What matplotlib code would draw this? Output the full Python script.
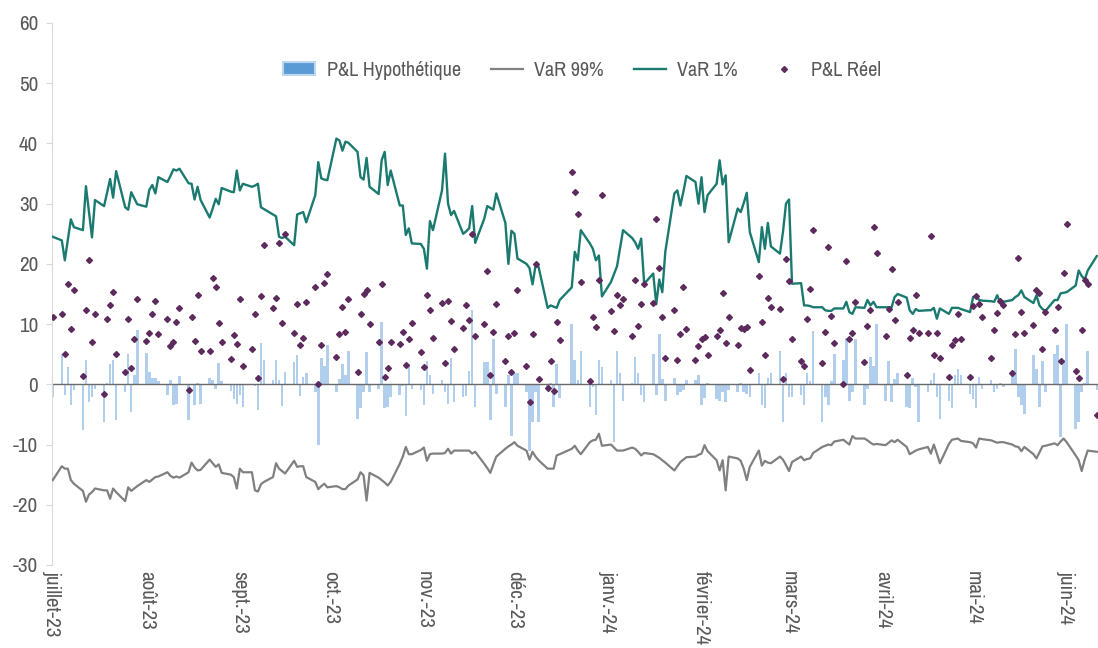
import matplotlib
matplotlib.use("Agg")
import numpy as np
import pandas as pd
import matplotlib.pyplot as plt
from matplotlib import font_manager
from matplotlib.patches import Patch
from matplotlib.lines import Line2D

# narrow font like the original if one is installed, else a smaller Liberation Sans
names = sorted({f.name for f in font_manager.fontManager.ttflist})
narrow = [n for n in names if 'Narrow' in n or 'Condensed' in n]
if narrow:
    plt.rcParams['font.family'] = [narrow[0], 'DejaVu Sans']
    FS = 14.5
else:
    plt.rcParams['font.family'] = ['Liberation Sans', 'DejaVu Sans']
    FS = 12.8
plt.rcParams['axes.unicode_minus'] = False

# trading days, 7 Jul 2023 -> 17 Jun 2024 (25 Dec closed)
dates = pd.bdate_range('2023-07-07', '2024-06-17')
dates = dates[dates != pd.Timestamp('2023-12-25')]

# P&L hypothetique (bars), one row per week
pnl_hypo = [-2.1,
    5.1, -1.8, 2.9, -3.5, -1.0,
    -7.6, 4.0, -2.9, -2.1, -0.7,
    -6.3, 0.3, 3.4, 4.0, -6.0,
    -1.3, 5.1, -4.6, 1.5, 9.0,
    5.2, 2.0, 1.0, 1.0, 0.5,
    -1.7, 0.7, -3.5, -3.2, 1.4,
    -6.0, 0.1, -3.5, 0.3, -3.2,
    1.1, 0.7, -0.7, 3.6, 0.6,
    -1.1, -2.4, -3.2, -1.8, -3.8,
    0.1, -0.3, -4.3, 6.8, 4.0,
    0.8, 4.0, 0.7, -3.6, 2.0,
    3.7, 4.9, -1.9, 1.2, 1.8,
    -1.3, -10.1, 4.3, 3.0, 6.6,
    -1.3, 0.9, 3.3, 1.5, 5.5,
    -5.7, -4.0, -1.3, 5.4, -1.3,
    -0.7, 10.4, -4.0, -3.8, -2.1,
    -1.8, -0.2, -5.3, 3.4, -0.7,
    -1.0, -3.5, 3.8, 1.5, -1.6,
    0.7, -1.3, -3.2, 4.4, -2.9,
    -2.1, -1.9, 2.2, 12.3, -3.8,
    3.7, 3.7, -6.0, 7.5, -1.6,
    -3.8, 1.5, -8.5, 1.8, 1.8,
    -1.3, -11.0, -6.3, -1.3, -6.3,
    -0.7, 0.3, -3.8, 3.3, -2.3,
    10.1, 4.0, 0.7, 5.5,
    -3.8, -0.5, -5.1, 4.0, 2.9,
    0.8, -9.5, 5.5, 1.8, -2.7,
    0.3, 4.5, 1.8, -1.8, -2.9,
    5.1, -1.8, 8.4, 0.9, -2.7,
    1.1, -1.8, -1.3, -1.0, 0.7,
    0.7, 1.5, -3.4, -2.3, 0.3,
    -2.4, -2.7, -1.3, -2.9, -1.0,
    -1.3, 0.3, -1.3, -1.6, -2.1,
    1.8, -3.5, -3.9, 1.0, 1.8,
    5.6, -6.3, 1.8, -2.1, -2.1,
    -1.8, -3.5, 1.9, 0.5, 8.8,
    -6.3, -2.1, -3.5, 0.5, 5.1,
    4.0, 7.7, -2.7, -1.3, 7.6,
    -3.5, -0.7, 4.5, 3.0, 10.1,
    -2.8, 3.8, -2.9, 0.9, 1.8,
    -3.8, -4.0, 1.1, -0.5, -6.3,
    -1.3, 0.7, 1.8, -2.1, -5.7,
    -2.7, -4.0, 1.5, 2.5, 1.5,
    -1.6, -2.4, -4.0, 1.2, -0.7,
    0.8, -1.3, -0.7, 0.3, -0.4,
    2.0, 5.9, -2.1, -3.5, -5.0,
    4.8, 2.6, -3.8, 3.8, -1.3,
    5.1, 6.5, -8.7, 4.0, 10.1,
    -7.4, -6.3, -1.3, 0.3, 5.6,
    -1.0]

# VaR 99%
var_99 = [-15.9,
    -13.6, -14.0, -14.0, -15.9, -16.5,
    -17.7, -19.5, -18.3, -17.9, -17.3,
    -17.6, -17.6, -19.0, -17.3, -17.9,
    -19.4, -17.1, -17.7, -17.3, -16.9,
    -15.9, -16.2, -15.8, -15.4, -15.3,
    -14.6, -15.2, -15.5, -15.3, -15.5,
    -14.6, -13.0, -13.8, -14.3, -14.2,
    -12.5, -13.1, -13.7, -13.3, -14.7,
    -15.0, -15.4, -17.3, -14.0, -14.6,
    -14.6, -17.6, -17.8, -16.6, -16.2,
    -15.4, -13.1, -14.0, -14.4, -14.8,
    -12.7, -13.7, -13.6, -13.6, -15.4,
    -16.2, -17.4, -16.9, -16.5, -17.1,
    -16.9, -17.1, -17.4, -17.4, -16.8,
    -15.8, -14.6, -15.1, -19.3, -14.7,
    -15.5, -15.9, -16.3, -16.8, -16.2,
    -13.2, -12.0, -10.4, -11.6, -11.6,
    -10.9, -10.5, -12.7, -11.6, -11.5,
    -11.5, -11.4, -10.7, -11.5, -11.0,
    -11.0, -11.0, -11.0, -11.5, -11.2,
    -13.2, -13.9, -14.7, -13.3, -12.0,
    -10.7, -10.3, -10.0, -9.6, -10.2,
    -11.0, -12.5, -11.2, -12.0, -12.6,
    -14.0, -14.0, -14.0, -11.8, -11.6,
    -10.7, -10.2, -11.0, -11.6,
    -9.6, -9.3, -9.2, -8.2, -10.2,
    -10.0, -10.5, -11.0, -11.0, -11.0,
    -10.5, -10.7, -11.2, -11.8, -11.4,
    -11.6, -11.9, -12.2, -12.6, -13.0,
    -14.3, -13.6, -12.9, -12.5, -12.1,
    -12.0, -11.7, -11.5, -10.1, -11.1,
    -12.6, -14.3, -12.6, -17.6, -12.0,
    -12.3, -12.7, -14.0, -15.9, -13.7,
    -11.0, -13.5, -12.7, -13.0, -13.1,
    -12.0, -12.5, -13.4, -14.4, -12.9,
    -12.0, -12.6, -12.4, -12.3, -11.4,
    -10.4, -10.2, -10.0, -10.1, -9.5,
    -9.2, -9.6, -10.0, -8.6, -9.0,
    -9.0, -9.3, -9.7, -10.0, -9.9,
    -10.1, -9.7, -9.3, -9.6, -9.2,
    -10.4, -11.6, -11.3, -11.0, -10.8,
    -10.4, -11.5, -10.0, -11.5, -13.1,
    -9.9, -9.2, -9.1, -9.0, -9.4,
    -9.6, -9.8, -10.5, -9.0, -9.1,
    -9.3, -9.5, -9.7, -9.6, -9.6,
    -10.0, -10.3, -10.4, -11.1, -10.4,
    -11.6, -12.3, -11.3, -10.3, -10.2,
    -9.8, -10.1, -9.5, -9.0, -9.6,
    -11.8, -12.6, -14.4, -12.5, -11.0,
    -11.2]

# VaR 1%
var_1 = [24.5,
    23.9, 20.6, 24.0, 27.4, 26.1,
    25.6, 32.9, 28.6, 24.4, 30.6,
    29.6, 31.8, 34.1, 31.0, 35.4,
    29.4, 29.0, 31.9, 30.9, 29.9,
    29.5, 32.3, 33.1, 31.7, 34.4,
    33.6, 34.6, 35.7, 35.5, 35.8,
    33.4, 33.3, 30.7, 32.8, 30.6,
    27.7, 29.2, 30.8, 29.9, 32.6,
    32.0, 31.9, 35.5, 32.2, 33.3,
    32.8, 33.0, 33.3, 29.4, 29.1,
    28.2, 27.9, 24.5, 24.3, 24.5,
    23.1, 28.2, 28.4, 28.6, 26.9,
    31.4, 36.9, 34.2, 34.0, 33.9,
    40.8, 40.5, 38.8, 40.3, 40.1,
    38.6, 34.4, 34.0, 37.6, 32.8,
    31.6, 37.2, 38.6, 33.1, 35.5,
    29.7, 29.7, 24.8, 25.9, 23.4,
    23.3, 22.5, 19.2, 27.1, 25.6,
    32.2, 38.3, 30.0, 28.1, 28.8,
    25.0, 25.4, 25.9, 29.6, 23.5,
    27.5, 29.6, 29.3, 29.0, 31.7,
    26.8, 20.0, 25.5, 25.0, 20.9,
    20.0, 19.3, 16.6, 19.7, 19.5,
    12.7, 13.1, 12.9, 12.7, 14.0,
    16.1, 22.0, 20.6, 25.6,
    23.4, 22.5, 20.6, 21.4, 14.6,
    17.0, 18.3, 19.6, 22.6, 25.6,
    24.3, 23.6, 22.5, 24.2, 16.7,
    18.4, 13.3, 17.4, 15.3, 22.0,
    31.7, 32.2, 29.7, 32.0, 34.6,
    33.6, 30.0, 34.4, 28.6, 31.4,
    33.3, 37.2, 33.2, 34.7, 23.6,
    29.2, 28.6, 30.1, 31.8, 25.3,
    20.3, 26.1, 22.5, 26.8, 22.9,
    21.7, 25.3, 30.0, 30.7, 16.7,
    16.8, 13.1, 13.1, 13.0, 12.8,
    12.8, 12.3, 12.2, 12.2, 12.6,
    12.6, 13.7, 12.0, 11.7, 12.8,
    12.7, 14.0, 13.1, 13.7, 12.8,
    12.8, 12.8, 12.8, 14.5, 15.0,
    14.4, 12.3, 11.7, 12.5, 12.2,
    12.3, 12.3, 12.7, 10.9, 12.6,
    11.7, 12.7, 12.7, 12.7, 12.5,
    12.0, 14.5, 14.6, 14.0, 13.9,
    13.8, 13.7, 14.8, 13.5, 13.7,
    14.0, 14.5, 14.8, 15.6, 14.5,
    13.5, 14.8, 13.1, 12.5, 12.2,
    14.0, 14.0, 15.1, 15.2, 15.3,
    16.4, 18.9, 18.0, 17.4, 18.9,
    21.3]

# P&L reel (dots)
pnl_reel = [11.2,
    11.6, 5.0, 16.7, 9.2, 15.6,
    1.4, 12.3, 20.7, 7.1, 11.6,
    -1.6, 10.9, 13.1, 15.4, 5.1,
    2.0, 10.9, 2.7, 7.6, 14.2,
    7.2, 8.6, 11.7, 13.9, 8.3,
    10.9, 6.4, 7.1, 10.4, 12.7,
    -0.9, 11.2, 7.2, 14.8, 5.6,
    5.6, 17.7, 16.2, 10.2, 7.0,
    4.2, 8.2, 6.7, 14.2, 3.0,
    5.8, 11.7, 1.1, 14.6, 23.1,
    12.7, 14.4, 23.5, 10.2, 25.0,
    8.5, 13.3, 6.5, 7.7, 13.6,
    16.1, 0.0, 6.6, 16.9, 18.4,
    4.5, 8.3, 12.9, 8.7, 14.2,
    2.0, 11.6, 15.0, 15.7, 10.1,
    7.0, 16.6, 1.2, 2.7, 7.0,
    6.7, 8.7, 3.2, 7.6, 10.2,
    5.3, 2.9, 14.9, 12.4, 7.7,
    13.5, 3.6, 13.8, 10.5, 5.9,
    9.3, 13.1, 10.7, 24.9, 8.1,
    10.0, 18.8, 1.6, 8.7, 13.3,
    3.8, 8.1, 2.0, 8.6, 15.7,
    3.0, -3.0, 8.3, 19.9, 0.9,
    -0.6, 3.8, -1.1, 10.4, 7.4,
    35.3, 31.9, 28.3, 17.0,
    0.6, 11.2, 9.6, 17.4, 31.4,
    12.1, 8.8, 14.8, 13.1, 14.2,
    8.0, 17.4, 9.7, 13.3, 16.7,
    13.5, 27.5, 19.4, 11.1, 4.3,
    12.4, 4.1, 8.4, 16.2, 9.2,
    4.1, 6.3, 7.6, 7.8, 4.8,
    8.0, 9.0, 15.2, 6.9, 11.2,
    6.6, 9.4, 9.2, 9.6, 2.3,
    18.0, 10.3, 4.9, 14.3, 12.8,
    12.5, 0.9, 20.8, 17.2, 7.6,
    3.9, 3.1, 10.9, 15.8, 25.6,
    3.6, 8.7, 22.8, 11.3, 6.9,
    0.0, 20.5, 7.6, 8.5, 13.7,
    3.7, 9.7, 12.4, 26.1, 21.8,
    8.1, 12.5, 19.1, 10.7, 13.7,
    1.5, 7.7, 9.1, 14.8, 8.6,
    8.5, 24.6, 4.8, 8.5, 4.3,
    1.3, 6.5, 7.3, 11.7, 7.5,
    1.2, 13.0, 14.6, 13.4, 11.2,
    4.3, 9.1, 11.8, 13.8, 13.2,
    1.9, 8.4, 21.0, 12.0, 8.6,
    9.9, 15.7, 15.1, 5.9, 12.0,
    9.0, 12.8, 3.8, 18.5, 26.6,
    2.2, 1.1, 9.0, 17.4, 16.7,
    -5.1]

month_labels = ['juillet-23', 'août-23', 'sept.-23', 'oct.-23', 'nov.-23', 'déc.-23',
                'janv.-24', 'février-24', 'mars-24', 'avril-24', 'mai-24', 'juin-24']

BAR_C = '#b1cfec'
GRAY_C = '#808080'
TEAL_C = '#1b7a70'
DOT_C = '#5c2a5c'
TXT_C = '#595959'

fig = plt.figure(figsize=(10.98, 6.48), dpi=100)
ax = fig.add_axes([52/1098., 83/648., 1046/1098., 542/648.])

ax.bar(dates, pnl_hypo, width=0.85, color=BAR_C, zorder=1)
ax.axhline(0, color='#6a6a6a', lw=1.0, zorder=2)
ax.plot(dates, var_99, color=GRAY_C, lw=1.6, zorder=3)
ax.plot(dates, var_1, color=TEAL_C, lw=1.7, zorder=3)
ax.plot(dates, pnl_reel, ls='none', marker='D', ms=3.0, color=DOT_C, zorder=4)

start = pd.Timestamp('2023-07-07')
ticks = [start + pd.DateOffset(months=i) for i in range(12)]
ax.set_xlim(start - pd.Timedelta(hours=6), start + pd.Timedelta(days=346.4))
ax.set_xticks(ticks)
ax.set_xticklabels(month_labels, rotation=-90, va='top', ha='center',
                   fontsize=FS + 0.7, color=TXT_C)
ax.tick_params(axis='x', length=0, pad=4)

ax.set_ylim(-30, 60)
ax.set_yticks(np.arange(-30, 61, 10))
ax.tick_params(axis='y', length=4, color='#d9d9d9', labelsize=FS + 0.7,
               labelcolor=TXT_C, pad=6)

for s in ['top', 'right', 'bottom']:
    ax.spines[s].set_visible(False)
ax.spines['left'].set_color('#d9d9d9')

handles = [Patch(facecolor='#5b9bd5', edgecolor='#bdd7ee', lw=1.5),
           Line2D([], [], color=GRAY_C, lw=1.6),
           Line2D([], [], color=TEAL_C, lw=1.7),
           Line2D([], [], ls='none', marker='D', ms=3.0, color=DOT_C)]
labels = ['P&L Hypothétique', 'VaR 99%', 'VaR 1%', 'P&L Réel']
leg = ax.legend(handles, labels, loc='center', bbox_to_anchor=(0.507, 0.913), ncol=4,
                frameon=False, fontsize=FS, handlelength=1.6, handleheight=0.55,
                handletextpad=0.55, columnspacing=1.5)
for t in leg.get_texts():
    t.set_color(TXT_C)

fig.savefig('out.png', dpi=100)
